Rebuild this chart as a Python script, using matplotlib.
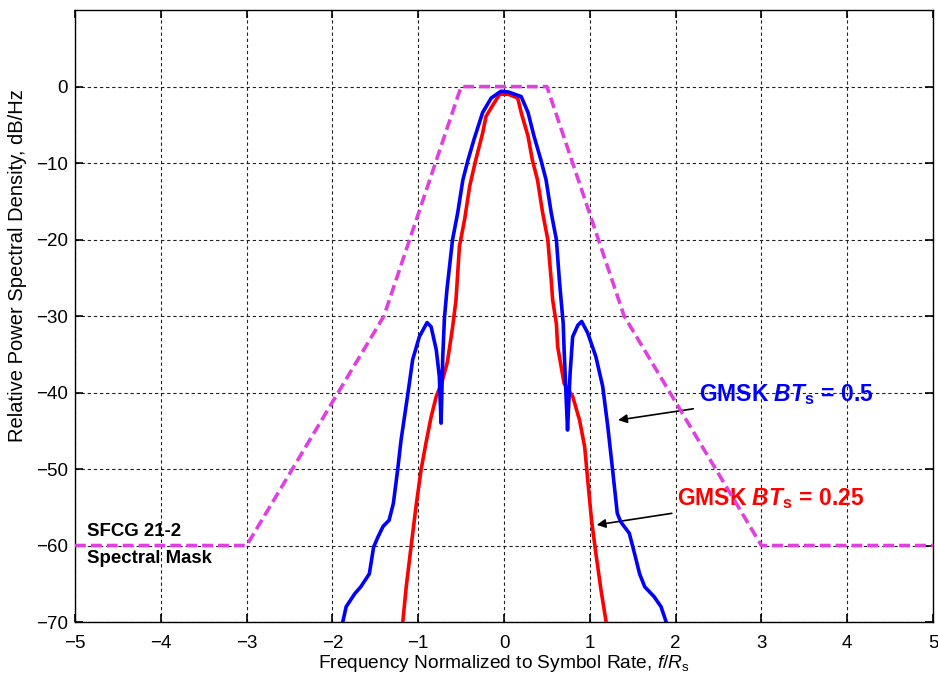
import matplotlib
matplotlib.use("Agg")
import matplotlib.pyplot as plt

plt.rcParams['font.family'] = ['Liberation Sans', 'DejaVu Sans']
plt.rcParams['mathtext.fontset'] = 'custom'
plt.rcParams['mathtext.rm'] = 'Liberation Sans'
plt.rcParams['mathtext.it'] = 'Liberation Sans:italic'
plt.rcParams['mathtext.bf'] = 'Liberation Sans:bold'
plt.rcParams['mathtext.bfit'] = 'Liberation Sans:italic:bold'

# SFCG 21-2 spectral mask
mask_f = [-5, -3, -1.4, -0.5, 0.5, 1.4, 3, 5]
mask_db = [-60, -60, -30, 0, 0, -30, -60, -60]

# GMSK BTs = 0.5
bt05_f = [-1.88, -1.84, -1.74, -1.67, -1.57, -1.52, -1.47, -1.41, -1.34, -1.29,
          -1.24, -1.20, -1.12, -1.065, -0.987, -0.897, -0.85, -0.79, -0.754, -0.734,
          -0.714, -0.695, -0.665, -0.60, -0.54, -0.48, -0.42, -0.35, -0.25, -0.15,
          -0.035, 0.05, 0.20, 0.28, 0.35, 0.43, 0.49, 0.55, 0.61, 0.645,
          0.665, 0.69, 0.70, 0.72, 0.74, 0.77, 0.80, 0.86, 0.905, 0.975,
          1.07, 1.15, 1.21, 1.27, 1.32, 1.36, 1.46, 1.52, 1.58, 1.64,
          1.75, 1.83, 1.89]
bt05_db = [-70, -68.0, -66.3, -65.4, -63.7, -60.2, -58.9, -57.5, -56.7, -54.5,
           -50.1, -46.2, -40.1, -35.7, -32.7, -30.85, -31.4, -34.4, -37.9, -44.0,
           -35.3, -30.3, -26.5, -20.0, -16.5, -12.2, -9.6, -6.9, -3.4, -1.5,
           -0.6, -0.7, -1.3, -3.4, -6.5, -9.6, -12.2, -16.5, -20.0, -25.3,
           -27.9, -31.0, -34.4, -39.7, -44.9, -37.5, -32.7, -31.2, -30.7, -32.2,
           -35.3, -39.2, -44.5, -50.6, -55.8, -56.9, -58.4, -61.0, -63.7, -65.4,
           -66.7, -68.0, -70]

# GMSK BTs = 0.25
bt025_f = [-1.18, -1.14, -1.084, -1.026, -0.967, -0.91, -0.85, -0.79, -0.72, -0.66,
           -0.60, -0.56, -0.52, -0.46, -0.40, -0.33, -0.25, -0.21, -0.13, -0.05,
           0.05, 0.16, 0.20, 0.28, 0.33, 0.39, 0.45, 0.51, 0.55, 0.567,
           0.61, 0.625, 0.70, 0.80, 0.88, 0.94, 0.975, 1.02, 1.07, 1.13, 1.19]
bt025_db = [-70, -65.4, -60.2, -54.9, -50.1, -46.6, -43.2, -40.5, -38.5, -36.0,
            -31.5, -27.9, -20.9, -17.4, -13.0, -9.6, -6.1, -3.9, -2.4, -1.0,
            -1.0, -1.5, -3.4, -6.5, -9.6, -12.2, -16.5, -20.0, -25.3, -27.9,
            -31.0, -34.0, -38.8, -40.5, -43.6, -47.1, -51.4, -56.7, -61.0, -65.8, -70]

xticks = [-5, -4, -3, -2, -1, 0, 1, 2, 3, 4, 5]
yticks = [-70, -60, -50, -40, -30, -20, -10, 0]

fig = plt.figure(figsize=(9.38, 6.75), dpi=100)
ax = fig.add_axes([0.080, 0.0785, 0.9147, 0.9065])

ax.plot(bt025_f, bt025_db, color='#ff0000', lw=2.6, zorder=3)
ax.plot(bt05_f, bt05_db, color='#0000ff', lw=2.6, zorder=4)
ax.plot(mask_f, mask_db, color='#e040e0', lw=2.6, dashes=(3.0, 1.4), zorder=5)

ax.set_xlim(-5, 5)
ax.set_ylim(-70, 10)
ax.set_xticks(xticks)
ax.set_yticks(yticks)
ax.set_xticklabels([str(t).replace('-', '\u2212') for t in xticks])
ax.set_yticklabels([str(t).replace('-', '\u2212') for t in yticks])
ax.tick_params(direction='in', top=True, right=True, length=6, width=1.2,
               labelsize=13.5)
ax.tick_params(axis='x', pad=9)
ax.tick_params(axis='y', pad=5)
ax.grid(True, color='#222222', linestyle=(0, (3, 2.5)), linewidth=0.8)
for s in ax.spines.values():
    s.set_linewidth(1.0)

ax.set_xlabel(r'Frequency Normalized to Symbol Rate, $\mathit{f}/\mathit{R}_{\mathrm{s}}$',
              fontsize=13.8, labelpad=1)
ax.set_ylabel('Relative Power Spectral Density, dB/Hz', fontsize=14.5)
ax.yaxis.set_label_coords(-0.056, 0.582)

ax.text(-4.86, -58.2, 'SFCG 21-2', fontsize=13.4, fontweight='bold', va='center', ha='left')
ax.text(-4.86, -61.7, 'Spectral Mask', fontsize=13.4, fontweight='bold', va='center', ha='left')

ax.annotate(r'GMSK $\mathbfit{BT}_{\mathbf{s}}$ = 0.5', xy=(1.33, -43.6), xytext=(2.27, -40.3),
            color='#0000ff', fontsize=16.5, fontweight='bold', va='center', ha='left',
            arrowprops=dict(arrowstyle='-|>', color='black', lw=1.2, mutation_scale=13,
                            shrinkA=2, shrinkB=0))
ax.annotate(r'GMSK $\mathbfit{BT}_{\mathbf{s}}$ = 0.25', xy=(1.08, -57.3), xytext=(2.02, -53.8),
            color='#ff0000', fontsize=16.5, fontweight='bold', va='center', ha='left',
            arrowprops=dict(arrowstyle='-|>', color='black', lw=1.2, mutation_scale=13,
                            shrinkA=2, shrinkB=0))

fig.savefig('out.png', dpi=100)
